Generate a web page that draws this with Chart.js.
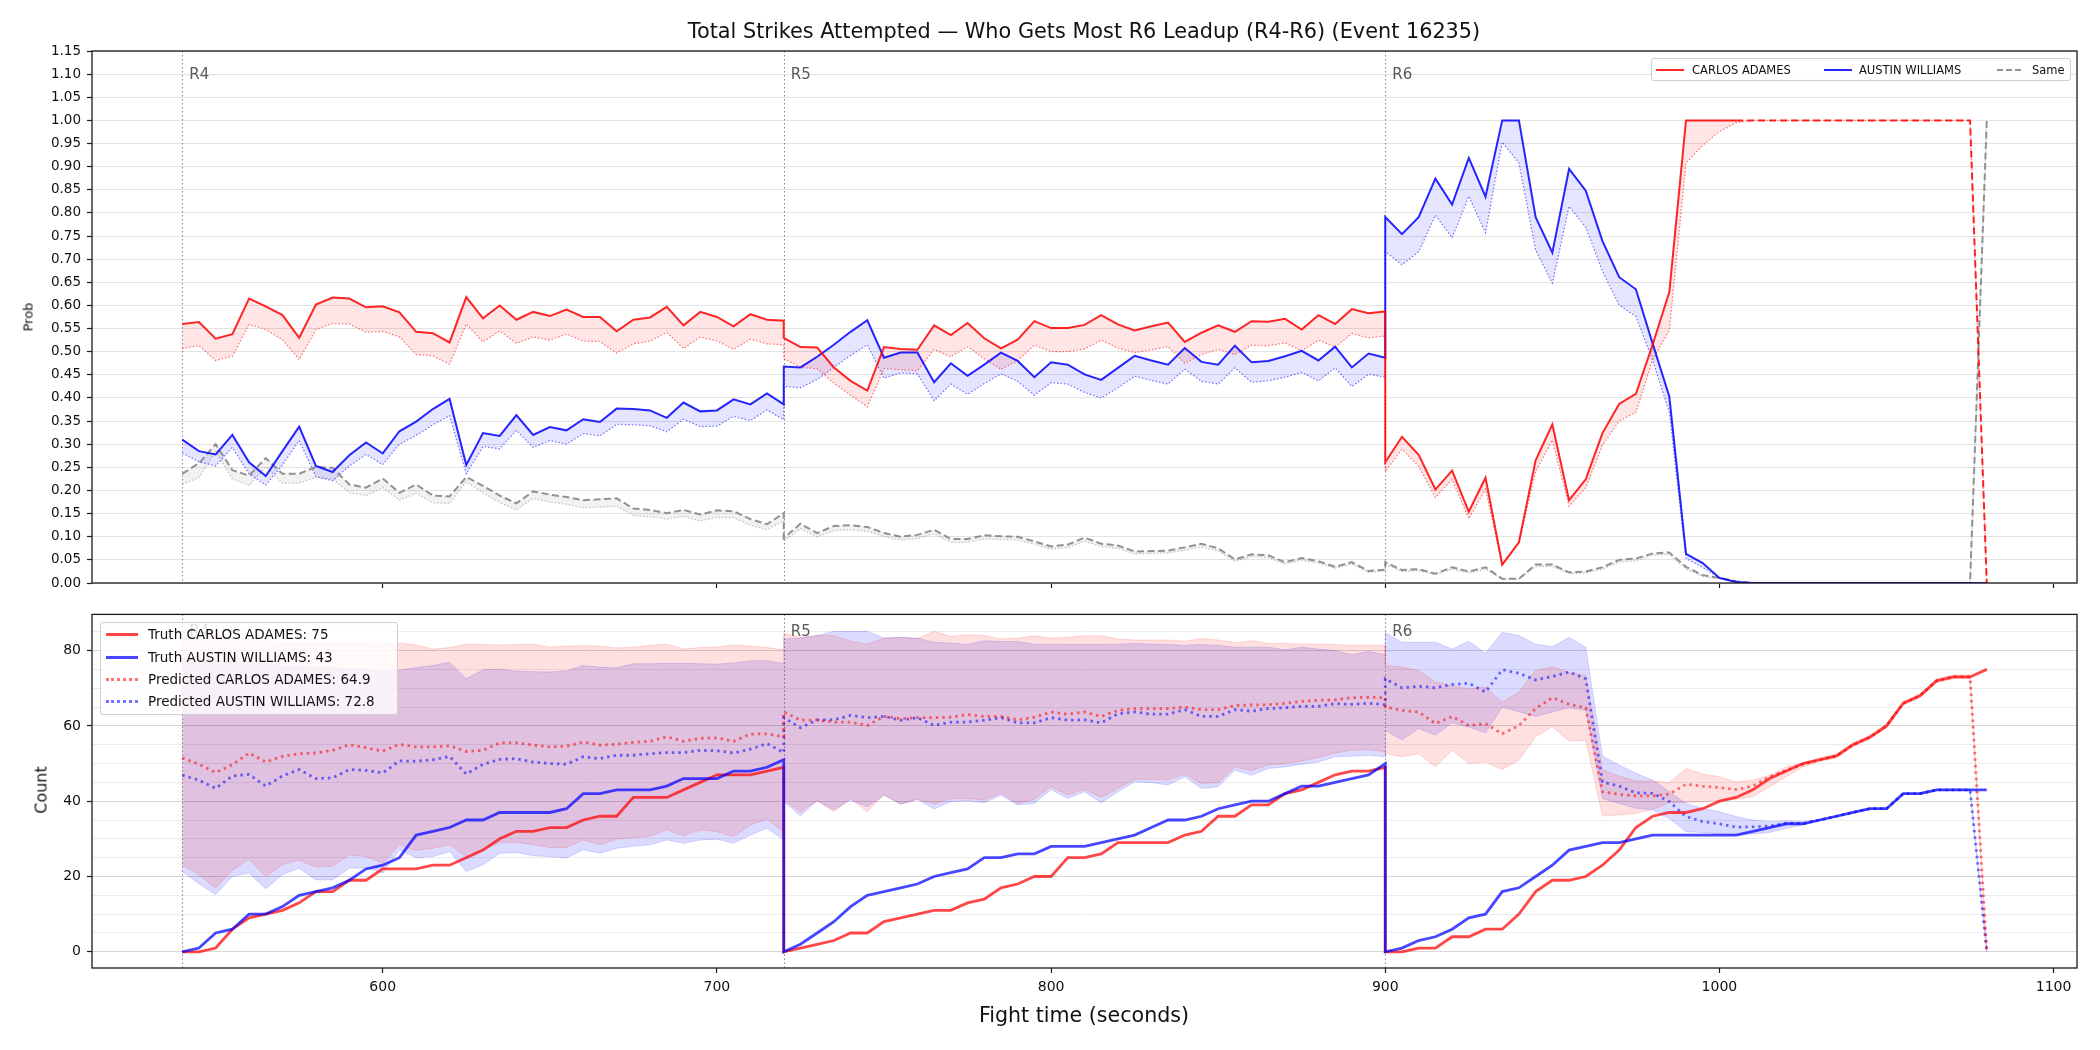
<!DOCTYPE html>
<html>
<head>
<meta charset="utf-8">
<script src="https://cdn.jsdelivr.net/npm/chart.js@4.4.1/dist/chart.umd.min.js"></script>
<style>
    html, body { margin: 0; padding: 0; background: #fff; overflow: hidden; }
    body { font-family: "DejaVu Sans", sans-serif; color: #111; }
    #lienzo { position: relative; width: 2100px; height: 1050px; }
    canvas { position: absolute; left: 0; }
    #graficoProb { top: 0; }
    #graficoConteo { top: 600px; }
    .texto { position: absolute; white-space: nowrap; transform: translate(-50%, -50%); }
    .vertical { transform: translate(-50%, -50%) rotate(-90deg); }
    .leyenda { position: absolute; background: rgba(255,255,255,0.8); border: 1px solid #cfcfcf; border-radius: 3px; box-sizing: border-box; }
    .muestra { position: absolute; height: 0; }
    .etiqueta { position: absolute; white-space: nowrap; transform: translateY(-50%); }
</style>
</head>
<body>
<div id="lienzo">
    <canvas id="graficoProb" width="2100" height="600"></canvas>
    <canvas id="graficoConteo" width="2100" height="450"></canvas>

    <div class="texto" style="left:1084px; top:31px; font-size:20.8px;">Total Strikes Attempted — Who Gets Most R6 Leadup (R4-R6) (Event 16235)</div>
    <div class="texto vertical" style="left:28px; top:317px; font-size:13px;">Prob</div>
    <div class="texto vertical" style="left:41px; top:790px; font-size:16px;">Count</div>
    <div class="texto" style="left:1084px; top:1015px; font-size:20.6px;">Fight time (seconds)</div>

    <div class="leyenda" style="left:1651px; top:58px; width:420px; height:23px; font-size:11.5px;">
        <div class="muestra" style="left:4px; top:10px; width:28px; border-top:2px solid rgba(255,0,0,0.85);"></div>
        <div class="etiqueta" style="left:40px; top:11px;">CARLOS ADAMES</div>
        <div class="muestra" style="left:172px; top:10px; width:28px; border-top:2px solid rgba(0,0,255,0.85);"></div>
        <div class="etiqueta" style="left:207px; top:11px;">AUSTIN WILLIAMS</div>
        <div class="muestra" style="left:345px; top:10px; width:24px; border-top:2px dashed rgba(128,128,128,0.85);"></div>
        <div class="etiqueta" style="left:380px; top:11px;">Same</div>
    </div>

    <div class="leyenda" style="left:100px; top:622px; width:298px; height:93px; font-size:13.5px;">
        <div class="muestra" style="left:5px; top:10px; width:32px; border-top:3px solid rgba(255,0,0,0.72);"></div>
        <div class="etiqueta" style="left:47px; top:11px;">Truth CARLOS ADAMES: 75</div>
        <div class="muestra" style="left:5px; top:33px; width:32px; border-top:3px solid rgba(0,0,255,0.72);"></div>
        <div class="etiqueta" style="left:47px; top:34px;">Truth AUSTIN WILLIAMS: 43</div>
        <div class="muestra" style="left:5px; top:55px; width:32px; border-top:3px dotted rgba(255,0,0,0.55);"></div>
        <div class="etiqueta" style="left:47px; top:56px;">Predicted CARLOS ADAMES: 64.9</div>
        <div class="muestra" style="left:5px; top:77px; width:32px; border-top:3px dotted rgba(0,0,255,0.55);"></div>
        <div class="etiqueta" style="left:47px; top:78px;">Predicted AUSTIN WILLIAMS: 72.8</div>
    </div>
</div>

<script>
const tiemposR4 = [540,545,550,555,560,565,570,575,580,585,590,595,600,605,610,615,620,625,630,635,640,645,650,655,660,665,670,675,680,685,690,695,700,705,710,715,720];
const tiemposR5 = [720,725,730,735,740,745,750,755,760,765,770,775,780,785,790,795,800,805,810,815,820,825,830,835,840,845,850,855,860,865,870,875,880,885,890,895,900];
const tiemposR6 = [900,905,910,915,920,925,930,935,940,945,950,955,960,965,970,975,980,985,990,995,1000,1005,1010,1015,1020,1025,1030,1035,1040,1045,1050,1055,1060,1065,1070,1075,1080];
const tiempos = [...tiemposR4, ...tiemposR5, ...tiemposR6];

const rondas = [540, 720, 900];
const nombresRonda = ["R4", "R5", "R6"];
const ticksTiempo = [600, 700, 800, 900, 1000, 1100];
const ticksProb = [0,0.05,0.1,0.15,0.2,0.25,0.3,0.35,0.4,0.45,0.5,0.55,0.6,0.65,0.7,0.75,0.8,0.85,0.9,0.95,1,1.05,1.1,1.15];
const ticksConteo = [0,5,10,15,20,25,30,35,40,45,50,55,60,65,70,75,80,85];

// probabilidades (panel de arriba)
const probCarlos = [
    0.56,0.564,0.528,0.538,0.615,0.598,0.579,0.53,0.602,0.617,0.615,0.596,0.598,0.585,0.543,0.54,0.52,0.618,0.572,0.6,0.569,0.586,0.577,0.591,0.575,0.575,0.544,0.569,0.574,0.597,0.557,0.586,0.575,0.555,0.581,0.569,0.567,
    0.53,0.51,0.509,0.466,0.437,0.416,0.51,0.506,0.504,0.557,0.536,0.562,0.529,0.507,0.526,0.566,0.551,0.551,0.558,0.579,0.559,0.546,0.555,0.563,0.521,0.541,0.557,0.543,0.566,0.565,0.571,0.548,0.579,0.56,0.592,0.583,0.587,
    0.261,0.316,0.277,0.202,0.243,0.154,0.228,0.04,0.088,0.265,0.343,0.179,0.224,0.324,0.387,0.409,0.515,0.629,1,1,1,1,1,1,1,1,1,1,1,1,1,1,1,1,1,1,0
];
const predProbCarlos = [
    0.507,0.513,0.481,0.49,0.559,0.548,0.526,0.483,0.548,0.561,0.56,0.542,0.544,0.532,0.494,0.491,0.473,0.56,0.521,0.545,0.518,0.532,0.525,0.538,0.523,0.522,0.497,0.517,0.523,0.542,0.507,0.532,0.523,0.505,0.527,0.517,0.515,
    0.485,0.466,0.463,0.432,0.406,0.381,0.464,0.461,0.459,0.505,0.489,0.511,0.485,0.462,0.481,0.514,0.5,0.5,0.506,0.525,0.508,0.498,0.504,0.511,0.475,0.494,0.505,0.494,0.514,0.513,0.519,0.502,0.525,0.51,0.539,0.53,0.534,
    0.241,0.289,0.252,0.185,0.224,0.139,0.203,0.038,0.087,0.241,0.309,0.166,0.206,0.298,0.35,0.369,0.482,0.546,0.908,0.946,0.976,0.995,1,1,1,1,1,1,1,1,1,1,1,1,1,1,0
];
const probAustin = [
    0.31,0.285,0.278,0.32,0.261,0.231,0.285,0.338,0.253,0.24,0.276,0.304,0.28,0.328,0.349,0.376,0.398,0.255,0.324,0.318,0.363,0.32,0.337,0.33,0.354,0.348,0.377,0.376,0.373,0.357,0.39,0.371,0.373,0.397,0.386,0.41,0.386,
    0.468,0.466,0.489,0.515,0.543,0.568,0.487,0.498,0.498,0.434,0.475,0.448,0.472,0.498,0.48,0.445,0.477,0.472,0.451,0.439,0.465,0.491,0.481,0.472,0.508,0.478,0.472,0.513,0.477,0.48,0.49,0.502,0.481,0.511,0.466,0.496,0.487,
    0.791,0.754,0.791,0.874,0.818,0.919,0.835,1,1,0.791,0.714,0.895,0.848,0.739,0.661,0.635,0.518,0.403,0.063,0.043,0.011,0.002,0,0,0,0,0,0,0,0,0,0,0,0,0,0,0
];
const predProbAustin = [
    0.281,0.262,0.253,0.293,0.236,0.212,0.255,0.308,0.23,0.221,0.253,0.278,0.256,0.3,0.319,0.342,0.362,0.236,0.295,0.29,0.33,0.293,0.308,0.3,0.323,0.318,0.343,0.342,0.34,0.327,0.354,0.338,0.339,0.36,0.351,0.374,0.353,
    0.425,0.422,0.44,0.466,0.492,0.515,0.443,0.454,0.452,0.394,0.43,0.408,0.431,0.452,0.436,0.406,0.433,0.43,0.412,0.4,0.422,0.447,0.438,0.43,0.462,0.436,0.43,0.465,0.434,0.437,0.445,0.455,0.437,0.465,0.425,0.451,0.445,
    0.716,0.688,0.716,0.795,0.746,0.836,0.757,0.953,0.908,0.72,0.648,0.814,0.769,0.674,0.601,0.576,0.482,0.369,0.053,0.034,0.011,0.002,0,0,0,0,0,0,0,0,0,0,0,0,0,0,0
];
const probIgual = [
    0.236,0.259,0.3,0.244,0.232,0.27,0.236,0.236,0.251,0.249,0.213,0.206,0.226,0.195,0.213,0.189,0.187,0.229,0.21,0.189,0.172,0.198,0.191,0.186,0.179,0.181,0.183,0.161,0.158,0.151,0.158,0.148,0.157,0.155,0.138,0.127,0.151,
    0.097,0.128,0.108,0.123,0.125,0.121,0.108,0.1,0.104,0.115,0.095,0.095,0.103,0.101,0.1,0.09,0.079,0.083,0.098,0.085,0.081,0.068,0.069,0.07,0.077,0.085,0.075,0.051,0.062,0.06,0.045,0.054,0.047,0.035,0.045,0.026,0.029,
    0.045,0.028,0.03,0.02,0.034,0.025,0.034,0.009,0.009,0.04,0.04,0.023,0.025,0.034,0.05,0.053,0.064,0.066,0.035,0.017,0.011,0.004,0,0,0,0,0,0,0,0,0,0,0,0,0,0,1
];
const predProbIgual = [
    0.213,0.228,0.285,0.225,0.211,0.251,0.216,0.216,0.228,0.225,0.195,0.189,0.206,0.179,0.194,0.173,0.172,0.219,0.195,0.174,0.158,0.183,0.175,0.17,0.163,0.164,0.166,0.146,0.143,0.138,0.144,0.134,0.142,0.141,0.125,0.115,0.135,
    0.09,0.118,0.1,0.113,0.115,0.112,0.1,0.093,0.096,0.106,0.088,0.088,0.095,0.094,0.093,0.084,0.073,0.077,0.09,0.079,0.075,0.063,0.064,0.065,0.071,0.078,0.069,0.047,0.057,0.055,0.041,0.049,0.043,0.032,0.041,0.023,0.026,
    0.04,0.025,0.027,0.018,0.03,0.022,0.03,0.008,0.008,0.036,0.036,0.02,0.022,0.03,0.045,0.048,0.06,0.062,0.03,0.014,0.009,0.003,0,0,0,0,0,0,0,0,0,0,0,0,0,0,1
];

// conteos (panel de abajo)
const realCarlos = [
    0,0,1,6,9,10,11,13,16,16,19,19,22,22,22,23,23,25,27,30,32,32,33,33,35,36,36,41,41,41,43,45,47,47,47,48,49,
    0,1,2,3,5,5,8,9,10,11,11,13,14,17,18,20,20,25,25,26,29,29,29,29,31,32,36,36,39,39,42,43,45,47,48,48,49,
    0,0,1,1,4,4,6,6,10,16,19,19,20,23,27,33,36,37,37,38,40,41,43,46,48,50,51,52,55,57,60,66,68,72,73,73,75
];
const realAustin = [
    0,1,5,6,10,10,12,15,16,17,19,22,23,25,31,32,33,35,35,37,37,37,37,38,42,42,43,43,43,44,46,46,46,48,48,49,51,
    0,2,5,8,12,15,16,17,18,20,21,22,25,25,26,26,28,28,28,29,30,31,33,35,35,36,38,39,40,40,42,44,44,45,46,47,50,
    0,1,3,4,6,9,10,16,17,20,23,27,28,29,29,30,31,31,31,31,31,31,32,33,34,34,35,36,37,38,38,42,42,43,43,43,43
];
const predCarlos = [
    51.5,49.8,47.6,49.7,52.8,50.4,51.9,52.6,52.8,53.5,55,54.2,53.3,55.1,54.4,54.4,54.7,53.2,53.5,55.5,55.5,54.9,54.4,54.6,55.7,54.9,55.1,55.6,55.9,57.1,55.9,56.7,56.8,55.9,57.8,57.9,57.1,
    63.7,61.5,61.5,61,61,60.1,62.5,61.9,62.2,62.2,62.3,63,62.5,62.5,61.6,62.3,63.7,63.1,63.7,62.5,64.1,64.6,64.6,64.6,65,64.3,64.3,65.4,65.6,65.6,66,66.5,66.8,66.9,67.5,67.6,67.5,
    65,64.1,63.7,60.6,62.5,60.1,60.6,57.9,60.1,64.6,67.5,65.7,64.8,42.5,41.8,41.4,41.4,41.9,44.5,44,43.6,43.1,44,46.5,48.2,49.8,51,52,55,57,60,66,68,72,73,73,0
];
const predAustin = [
    46.9,45.6,43.4,46.7,47.1,44,46.7,48.4,46,46.2,48.4,48.2,47.5,50.7,50.6,51,51.9,47.2,49.8,51.1,51.3,50.4,50,49.8,51.8,51.3,52.2,52.2,52.6,52.9,52.9,53.5,53.4,52.8,53.8,55.3,52.9,
    62.2,59.5,61.6,61.6,62.8,62.2,62.5,61.5,62.2,60.1,61,61,61.5,62.2,60.8,60.8,62.2,61.5,61.6,60.8,63.2,63.7,63.1,63.1,64.3,62.5,62.5,64.3,63.9,64.6,64.8,65.2,65.2,65.9,65.7,66,65.6,
    72.5,70.1,70.5,70.1,71,71.3,69,74.9,74,72.2,73.1,74.3,72.5,45.1,44,42.2,42.1,39.9,35.9,34.6,34,33.1,33.2,33.4,34.1,34.1,35,36,37,38,38,42,42,43,43,43,0
];
const altoCarlos = [
    84,84,84,83.5,83,82.5,82,82,82,82,82,82,81.8,82,81.5,80.4,80.8,81.7,81.6,81.5,81.6,81.7,80.9,81.2,81.3,81.2,80.7,80.9,81.4,81.7,80.4,80.8,80.9,81.5,81.2,80.8,80.2,
    84.6,83.5,84,84,82.5,81.7,83.3,83.5,83.2,85.1,83.7,84.2,84,83.1,83.3,83.9,83.3,83.5,83.9,83.9,83.1,82.8,82.8,82.8,82.5,83.2,82.8,82.1,82.6,81.9,81.9,81.7,81.7,81.6,81.4,81.4,81.4,
    76,75.6,74.7,71.6,70.7,69.8,70.3,66.3,69,74.7,75.7,74.2,73.4,48.4,46.6,45.4,45.4,44.9,48.7,47.2,46.5,45.1,45.6,46.9,49.1,50.2,51.5,52.5,55.5,57.5,60.5,66.5,68.5,72.5,73.5,73.5,0
];
const bajoCarlos = [
    23.1,20.5,16.9,21.6,24.6,20,23.1,24.3,22.5,22.7,25.7,25.3,23.5,28.4,26.9,27.5,28.4,25.3,27.1,29,29.1,28.4,27.7,27.7,29.7,28.4,29.9,30.3,30.6,32.4,30.8,32.4,31.9,30.6,33.7,35.2,31.9,
    40.3,37.2,40.1,37.2,40.7,37.2,41.8,39.2,40.5,39.2,40.7,40.7,40.3,42.1,39.4,40.5,43.8,41.6,43.2,41,43.4,45.8,45.8,45.6,47.2,44.7,44.9,49.1,48.1,49.6,50,50.7,51.6,52.8,53.5,53.7,53.1,
    52.6,51.8,52.6,49.1,53.5,50,50.4,48.4,50.9,57.1,59.7,56,56.2,36.1,36.3,36.8,37.8,39.6,39.6,39.9,40.1,40.5,41.2,43.8,46.5,49.1,50.5,51.5,54.5,56.5,59.5,65.5,67.5,71.5,72.5,72.5,0
];
const altoAustin = [
    78,78,77.5,77,77,76.5,76,76,75.5,75.5,75,75,74.5,74.8,75.5,76,76.9,72.5,74.9,75.1,74.5,74.4,74.3,74.6,76,75.6,75.4,76.5,76.5,76.6,76.6,76.5,76.4,76.7,77.3,77.3,76.6,
    83.1,83.3,84,85.1,85.1,85.1,83.3,83.5,83.3,82.2,82,81.6,82.6,82.4,82.4,81.7,81.7,81.6,81.6,81.6,81.7,81.9,81.7,81.6,81.4,81.6,81.4,80.9,80.9,80.9,80.2,80.9,80.4,80,78.9,79.8,78.9,
    84.8,82.2,82.2,82.2,80.4,82.5,79.3,84.8,84,81.7,81,83.5,80.9,51.9,49.6,47.4,45.6,42.5,39.4,38.1,37.2,35.9,35,34.6,34.8,34.6,35.2,36.2,37.2,38.2,38.2,42.2,42.2,43.2,43.2,43.2,0
];
const bajoAustin = [
    21.3,18.1,15.2,20,20.9,16.7,20.5,22.2,19.1,19.1,22.2,22.2,20.9,27.1,24.9,25.3,26.6,21.3,23.1,26.2,26.4,25.5,25.3,24.9,27.1,26.2,27.5,28,28.4,29.7,28.8,29.7,29.9,28.8,31,32.8,29.7,
    39.9,36.1,40.1,37.7,40.3,38.5,41.6,39.2,40.5,37.9,39.9,40.1,39.6,41.6,39,39.4,43.1,40.7,42.5,39.6,42.5,45.1,44.9,44.3,46.5,43.4,43.8,48.2,46.9,48.7,49.1,49.8,50.4,51.8,51.9,52.2,51.8,
    58.8,56.3,59.3,57.5,60.8,59.7,58.1,65,63.7,62.5,63.7,64.8,64.1,40.7,39.4,38.1,37.7,35.4,31.9,31.7,31.3,31,31.3,31.7,32.8,33.7,34.8,35.8,36.8,37.8,37.8,41.8,41.8,42.8,42.8,42.8,0
];

const fuente = "'DejaVu Sans', sans-serif";

function puntos(serie) {
    return serie.map((v, i) => ({ x: tiempos[i], y: v }));
}

function serie(valores, estilo) {
    return Object.assign({ data: puntos(valores), pointRadius: 0, tension: 0, fill: false, borderCapStyle: "butt" }, estilo);
}

// lineas punteadas de cada ronda y su nombre
const lineasRonda = {
    id: "lineasRonda",
    beforeDatasetsDraw(chart) {
        const { ctx, chartArea, scales } = chart;
        ctx.save();
        ctx.strokeStyle = "rgba(70,70,70,0.65)";
        ctx.lineWidth = 1;
        ctx.setLineDash([1.5, 2.5]);
        rondas.forEach(t => {
            let x = Math.round(scales.x.getPixelForValue(t)) + 0.5;
            ctx.beginPath();
            ctx.moveTo(x, chartArea.top);
            ctx.lineTo(x, chartArea.bottom);
            ctx.stroke();
        });
        ctx.restore();
    },
    afterDatasetsDraw(chart, args, opciones) {
        const { ctx, chartArea, scales } = chart;
        ctx.save();
        ctx.fillStyle = "#5a5a5a";
        ctx.font = "15px " + fuente;
        ctx.textBaseline = "middle";
        rondas.forEach((t, i) => {
            let x = scales.x.getPixelForValue(t);
            ctx.fillText(nombresRonda[i], x + 7, chartArea.top + opciones.bajada);
        });
        ctx.restore();
    }
};

const marco = {
    id: "marco",
    afterDraw(chart) {
        const { ctx, chartArea } = chart;
        ctx.save();
        ctx.strokeStyle = "#1a1a1a";
        ctx.lineWidth = 1.3;
        ctx.strokeRect(chartArea.left, chartArea.top, chartArea.right - chartArea.left, chartArea.bottom - chartArea.top);
        ctx.restore();
    }
};

function ejeTiempo(conEtiquetas, alto) {
    return {
        type: "linear",
        min: 513,
        max: 1107,
        afterBuildTicks: escala => { escala.ticks = ticksTiempo.map(v => ({ value: v })); },
        afterFit: escala => { escala.height = alto; },
        border: { display: false },
        grid: { drawOnChartArea: false, drawTicks: true, tickLength: 5, tickColor: "#1a1a1a", tickWidth: 1.2 },
        ticks: { display: conEtiquetas, color: "#111", padding: 6, font: { family: fuente, size: 14 }, callback: v => String(v) }
    };
}

function crearGraficoProb() {
    let rayado = ctx => ctx.p0.parsed.x >= 1005 ? [7, 4] : undefined;

    new Chart(document.getElementById("graficoProb"), {
        type: "line",
        data: {
            datasets: [
                serie(probCarlos, { borderColor: "rgba(255,0,0,0.85)", borderWidth: 2, order: 1, segment: { borderDash: rayado } }),
                serie(predProbCarlos, { borderColor: "rgba(255,0,0,0.55)", borderWidth: 1.2, borderDash: [1.5, 2], fill: "-1", backgroundColor: "rgba(255,0,0,0.1)", order: 4 }),
                serie(probAustin, { borderColor: "rgba(0,0,255,0.85)", borderWidth: 2, order: 2 }),
                serie(predProbAustin, { borderColor: "rgba(0,0,255,0.55)", borderWidth: 1.2, borderDash: [1.5, 2], fill: "-1", backgroundColor: "rgba(0,0,255,0.1)", order: 5 }),
                serie(probIgual, { borderColor: "rgba(128,128,128,0.85)", borderWidth: 2, borderDash: [7, 3.5], order: 3 }),
                serie(predProbIgual, { borderColor: "rgba(150,150,150,0.6)", borderWidth: 1.2, borderDash: [1.5, 2], fill: "-1", backgroundColor: "rgba(128,128,128,0.1)", order: 6 })
            ]
        },
        options: {
            animation: false,
            responsive: false,
            devicePixelRatio: 1,
            layout: { padding: { top: 51, right: 23, left: 0, bottom: 0 } },
            plugins: { legend: { display: false }, tooltip: { enabled: false }, lineasRonda: { bajada: 24 } },
            scales: {
                x: ejeTiempo(false, 17),
                y: {
                    min: 0,
                    max: 1.15,
                    afterBuildTicks: escala => { escala.ticks = ticksProb.map(v => ({ value: v })); },
                    afterFit: escala => { escala.width = 92; },
                    border: { display: false },
                    grid: { color: "#e3e3e3", lineWidth: 1, tickLength: 5, tickColor: "#1a1a1a", tickWidth: 1.2 },
                    ticks: { color: "#111", padding: 6, font: { family: fuente, size: 13.5 }, callback: v => Number(v).toFixed(2) }
                }
            }
        },
        plugins: [lineasRonda, marco]
    });
}

function crearGraficoConteo() {
    new Chart(document.getElementById("graficoConteo"), {
        type: "line",
        data: {
            datasets: [
                serie(bajoCarlos, { borderColor: "rgba(255,0,0,0.14)", borderWidth: 1, order: 5 }),
                serie(altoCarlos, { borderColor: "rgba(255,0,0,0.14)", borderWidth: 1, fill: "-1", backgroundColor: "rgba(255,0,0,0.12)", order: 5 }),
                serie(bajoAustin, { borderColor: "rgba(0,0,255,0.14)", borderWidth: 1, order: 6 }),
                serie(altoAustin, { borderColor: "rgba(0,0,255,0.14)", borderWidth: 1, fill: "-1", backgroundColor: "rgba(0,0,255,0.14)", order: 6 }),
                serie(predCarlos, { borderColor: "rgba(255,0,0,0.55)", borderWidth: 2.8, borderDash: [2.5, 4], order: 3 }),
                serie(predAustin, { borderColor: "rgba(0,0,255,0.55)", borderWidth: 2.8, borderDash: [2.5, 4], order: 4 }),
                serie(realCarlos, { borderColor: "rgba(255,0,0,0.72)", borderWidth: 2.8, order: 2 }),
                serie(realAustin, { borderColor: "rgba(0,0,255,0.72)", borderWidth: 2.8, order: 1 })
            ]
        },
        options: {
            animation: false,
            responsive: false,
            devicePixelRatio: 1,
            layout: { padding: { top: 13, right: 23, left: 0, bottom: 0 } },
            plugins: { legend: { display: false }, tooltip: { enabled: false }, lineasRonda: { bajada: 18 } },
            scales: {
                x: ejeTiempo(true, 82),
                y: {
                    min: -4.3,
                    max: 89.6,
                    afterBuildTicks: escala => { escala.ticks = ticksConteo.map(v => ({ value: v })); },
                    afterFit: escala => { escala.width = 92; },
                    border: { display: false },
                    grid: {
                        color: ctx => ctx.tick && ctx.tick.value % 20 === 0 ? "#d6d6d6" : "#ececec",
                        lineWidth: 1,
                        tickLength: 5,
                        tickWidth: 1.2,
                        tickColor: ctx => ctx.tick && ctx.tick.value % 20 === 0 ? "#1a1a1a" : "rgba(0,0,0,0)"
                    },
                    ticks: { color: "#111", padding: 6, font: { family: fuente, size: 14 }, callback: v => v % 20 === 0 ? v : "" }
                }
            }
        },
        plugins: [lineasRonda, marco]
    });
}

crearGraficoProb();
crearGraficoConteo();
</script>
</body>
</html>
